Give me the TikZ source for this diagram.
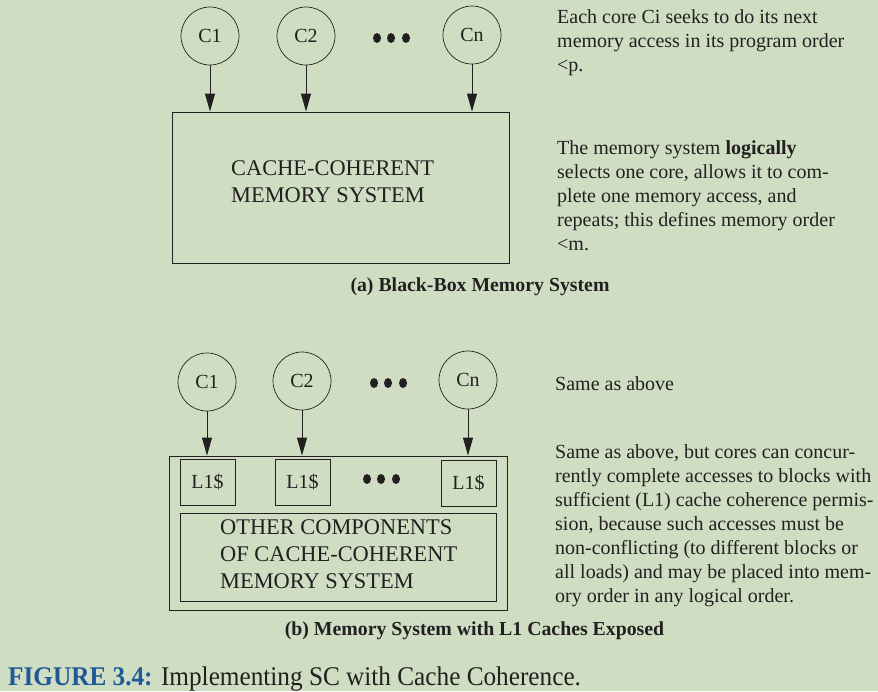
\documentclass[tikz,border=0pt]{standalone}
\usepackage{fontspec}
\setmainfont{Liberation Serif}
\usetikzlibrary{arrows.meta}
\definecolor{bg}{RGB}{207,222,195}
\definecolor{ink}{RGB}{35,31,32}
\definecolor{figblue}{RGB}{31,88,150}
\begin{document}
\begin{tikzpicture}[x=1pt,y=-1pt,
  core/.style={circle,draw=ink,line width=0.7pt,minimum size=58pt,inner sep=0pt,text=ink,font=\fontsize{20}{24}\selectfont},
  boxed/.style={draw=ink,line width=0.9pt,inner sep=0pt},
  arr/.style={draw=ink,line width=0.9pt,-{Triangle[length=18pt,width=10pt]}},
  note/.style={anchor=base west,align=left,inner sep=0pt,text=ink,font=\fontsize{20}{24}\selectfont},
  boxtext/.style={anchor=base west,align=left,inner sep=0pt,text=ink,font=\fontsize{22.4}{26.7}\selectfont},
  captext/.style={anchor=base,inner sep=0pt,text=ink,font=\bfseries\fontsize{19.8}{24}\selectfont},
  cachebox/.style={boxed,minimum width=55pt,minimum height=46pt,text=ink,font=\fontsize{20}{24}\selectfont},
  bigdot/.style={fill=ink}]
\fill[bg] (0,0) rectangle (878,691);
\useasboundingbox (0,0) rectangle (878,691);

% ---------- (a) ----------
\node[core] (c1) at (210,36) {C1};
\node[core] (c2) at (306,36) {C2};
\node[core] (cn) at (472,35) {Cn};
\fill[bigdot] (377,38) ellipse [x radius=4pt, y radius=5pt];
\fill[bigdot] (391,38) ellipse [x radius=4pt, y radius=5pt];
\fill[bigdot] (406,38) ellipse [x radius=4pt, y radius=5pt];
\node[boxed,minimum width=337pt,minimum height=151pt] (mem) at (340.5,187.5) {};
\node[boxtext] (memtxt) at (231,202) {CACHE-COHERENT\\MEMORY SYSTEM};
\draw[arr] (c1) -- (c1 |- mem.north);
\draw[arr] (c2) -- (c2 |- mem.north);
\draw[arr] (cn) -- (cn |- mem.north);
\node[captext] (capa) at (480,291) {(a) Black-Box Memory System};
\node[note] (na1) at (557,71) {Each core Ci seeks to do its next\\memory access in its program order\\<p.};
\node[note] (na2) at (557,250) {The memory system \textbf{logically}\\selects one core, allows it to com-\\plete one memory access, and\\repeats; this defines memory order\\<m.};

% ---------- (b) ----------
\node[core] (b1) at (207,382) {C1};
\node[core] (b2) at (302,381) {C2};
\node[core] (bn) at (468,380) {Cn};
\fill[bigdot] (374,383) ellipse [x radius=4pt, y radius=5pt];
\fill[bigdot] (388,383) ellipse [x radius=4pt, y radius=5pt];
\fill[bigdot] (403,383) ellipse [x radius=4pt, y radius=5pt];
\node[boxed,minimum width=338pt,minimum height=154pt] (outer) at (338,533) {};
\node[cachebox] (l1a) at (207.5,482) {L1\$};
\node[cachebox] (l1b) at (302.5,482) {L1\$};
\node[cachebox] (l1n) at (468.5,483) {L1\$};
\fill[bigdot] (367,479) ellipse [x radius=4pt, y radius=5pt];
\fill[bigdot] (381,479) ellipse [x radius=4pt, y radius=5pt];
\fill[bigdot] (396,479) ellipse [x radius=4pt, y radius=5pt];
\node[boxed,minimum width=316pt,minimum height=88pt] (inner) at (338,557) {};
\node[boxtext] (innertxt) at (220,588) {OTHER COMPONENTS\\OF CACHE-COHERENT\\MEMORY SYSTEM};
\draw[arr] (b1) -- (b1 |- outer.north);
\draw[arr] (b2) -- (b2 |- outer.north);
\draw[arr] (bn) -- (bn |- outer.north);
\node[captext] (capb) at (474.5,635) {(b) Memory System with L1 Caches Exposed};
\node[note] (nb1) at (555,390) {Same as above};
\node[note] (nb2) at (555,602) {Same as above, but cores can concur-\\rently complete accesses to blocks with\\sufficient (L1) cache coherence permis-\\sion, because such accesses must be\\non-conflicting (to different blocks or\\all loads) and may be placed into mem-\\ory order in any logical order.};

% ---------- figure caption ----------
\node[anchor=base west,inner sep=0pt,font=\fontsize{27}{32}\selectfont,text=ink] (fig) at (8,685) {\scalebox{0.935}[1]{\textcolor{figblue}{\textbf{FIGURE 3.4:}} Implementing SC with Cache Coherence.}};
\end{tikzpicture}
\end{document}
